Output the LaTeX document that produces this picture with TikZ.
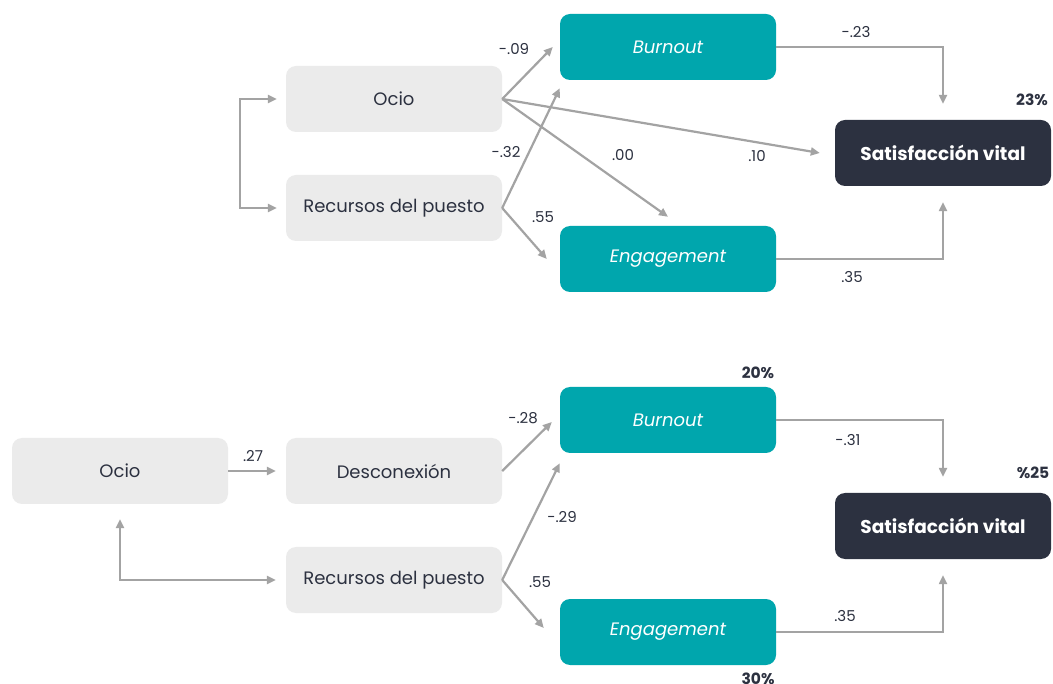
\documentclass[tikz,border=0pt]{standalone}
\usepackage{fontspec}
\setmainfont{Poppins}
\usetikzlibrary{arrows.meta}

\definecolor{tealbox}{HTML}{00A6AD}
\definecolor{greybox}{HTML}{EBEBEB}
\definecolor{darkbox}{HTML}{2C3140}
\definecolor{arrowgrey}{HTML}{A3A3A3}
\definecolor{textdark}{HTML}{2C3140}

\tikzset{
  >={Triangle[length=9pt,width=8pt]},
  varbox/.style={rectangle, rounded corners=10pt, minimum width=216pt, minimum height=66pt, inner sep=0pt},
  predbox/.style={varbox, fill=greybox, text=textdark, font=\fontsize{18}{20}\selectfont},
  medbox/.style={varbox, fill=tealbox, text=white, font=\fontsize{18}{20}\selectfont\itshape},
  outbox/.style={varbox, fill=darkbox, text=white, font=\fontsize{18.5}{20}\selectfont\bfseries},
  flecha/.style={draw=arrowgrey, line width=2.2pt, ->},
  coef/.style={font=\fontsize{15}{17}\selectfont, text=textdark},
  pct/.style={font=\fontsize{15.5}{17}\selectfont\bfseries, text=textdark}
}

\begin{document}
\begin{tikzpicture}[x=1pt, y=-1pt]
  \fill[white] (0,0) rectangle (1053,684);
  \useasboundingbox (0,0) rectangle (1053,684);

  % modelo 1
  \node[predbox] (ocio1) at (394,99) {Ocio};
  \node[predbox] (rec1) at (394,208) {Recursos del puesto};
  \node[medbox] (burn1) at (668,47) {Burnout};
  \node[medbox] (eng1) at (668,259) {Engagement};
  \node[outbox] (sat1) at (943,153) {Satisfacción vital};

  \draw[flecha, <->, shorten <=9pt, shorten >=9pt] (ocio1.west) -- ++(-46,0) |- (rec1.west);
  \draw[flecha] (ocio1.east) -- ([xshift=-7pt]burn1.west);
  \draw[flecha] (ocio1.east) -- ([yshift=9pt]eng1.north);
  \draw[flecha] (ocio1.east) -- ([xshift=-15pt]sat1.west);
  \draw[flecha] (rec1.east) -- ([yshift=-8pt]burn1.south west);
  \draw[flecha] (rec1.east) -- ([xshift=-13pt]eng1.west);
  \draw[flecha, shorten >=16pt] (burn1.east) -| (sat1.north);
  \draw[flecha, shorten >=16pt] (eng1.east) -| (sat1.south);

  \node[coef] (c09) at (514,49) {-.09};
  \node[coef] (c32) at (506,152) {-.32};
  \node[coef] (c00) at (623,155) {.00};
  \node[coef] (c55a) at (543,217) {.55};
  \node[coef] (c10) at (757,156) {.10};
  \node[coef] (c23) at (856,32) {-.23};
  \node[coef] (c35a) at (852,277) {.35};
  \node[pct] (p23) at (1032,100) {23\%};

  % modelo 2
  \node[predbox] (ocio2) at (120,471) {Ocio};
  \node[predbox] (desc) at (394,471) {Desconexión};
  \node[predbox] (rec2) at (394,580) {Recursos del puesto};
  \node[medbox] (burn2) at (668,420) {Burnout};
  \node[medbox] (eng2) at (668,632) {Engagement};
  \node[outbox] (sat2) at (943,526) {Satisfacción vital};

  \draw[flecha, shorten >=10pt] (ocio2.east) -- (desc.west);
  \draw[flecha, <->, shorten <=15pt, shorten >=10pt] (ocio2.south) |- (rec2.west);
  \draw[flecha] (desc.east) -- ([xshift=-8pt,yshift=-2pt]burn2.west);
  \draw[flecha] (rec2.east) -- ([yshift=-10pt]burn2.south west);
  \draw[flecha] (rec2.east) -- ([xshift=-16pt,yshift=4pt]eng2.west);
  \draw[flecha, shorten >=16pt] (burn2.east) -| (sat2.north);
  \draw[flecha, shorten >=16pt] (eng2.east) -| (sat2.south);

  \node[coef] (c27) at (253,456) {.27};
  \node[coef] (c28) at (523,418) {-.28};
  \node[coef] (c29) at (562,517) {-.29};
  \node[coef] (c55b) at (540,582) {.55};
  \node[coef] (c31) at (848,440) {-.31};
  \node[coef] (c35b) at (845,616) {.35};
  \node[pct] (p20) at (758,373) {20\%};
  \node[pct] (p25) at (1033,473) {\%25};
  \node[pct] (p30) at (758,679) {30\%};
\end{tikzpicture}
\end{document}
